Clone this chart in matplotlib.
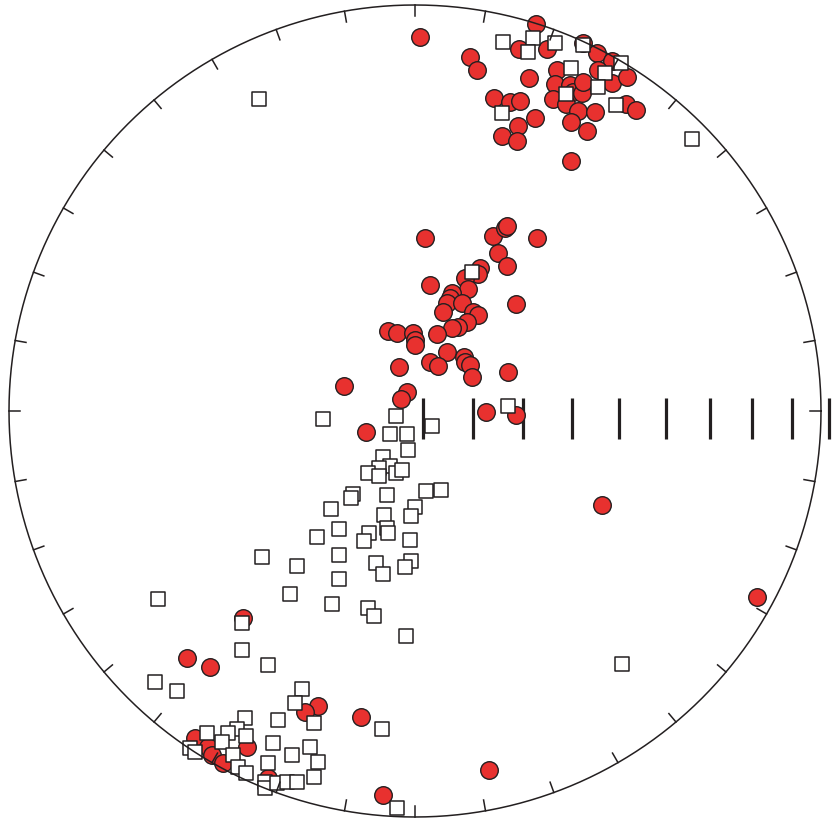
import numpy as np
import matplotlib
matplotlib.use("Agg")
import matplotlib.pyplot as plt

# Equal-area lower-hemisphere net: primitive radius in projection units
NET_R = 406.0
INK = "#231f20"
RED = "#e8312f"

# Poles (filled circles): projected east / north coordinates
pole_east = [121, 55, 62, 104, 132, 168, 182, 197, 114, 142, 140, 155, 158, 167, 168,
             183, 197, 212, 79, 95, 105, 138, 151, 163, 180, 211, 221, 120, 103, 87,
             102, 156, 172, 156, 5,
             10, 78, 90, 92, 122, 83, 92, 65, 63, 50, 53, 15, 37, 35, 32, 47, 58, 63,
             28, 52, 43, 37, 101, -27, -18, -2, 0, 0, 22, 32, 15, 23, 49, 50, 55, 57,
             -16, 93, -8, -14, 71, 101, -71, -49,
             187, 342, 74, -32, -54, -97, -110, -172, -228, -205, -220, -207, -203,
             -192, -168, -147]
pole_north = [387, 354, 341, 362, 362, 368, 358, 350, 333, 341, 327, 326, 319, 318, 329,
              341, 328, 334, 313, 309, 310, 312, 307, 300, 299, 307, 301, 293, 285, 275,
              270, 289, 280, 250, 374,
              173, 175, 183, 185, 173, 158, 145, 143, 137, 133, 122, 126, 118, 113, 108,
              108, 99, 96, 99, 89, 84, 83, 107, 80, 78, 78, 71, 66, 77, 59, 49, 45, 54,
              49, 46, 34, 44, 39, 19, 12, -1, -4, 25, -21,
              -94, -186, -359, -384, -306, -295, -301, -207, -247, -256, -327, -336,
              -344, -352, -336, -367]

# Lineations (open squares): projected east / north coordinates
line_east = [88, 118, 113, 140, 168, 206, 156, 190, 183, 151, 201, 87, -156, 277,
             57, 93,
             -92, -19, 17, -25, -8, -7, -32, -25, -36, -47, -36, -19, -13, -62, -64,
             -28, 11, 26, 0, -4, -84, -31, -76, -46, -51, -28, -27, -5, -98, -76, -39,
             -32, -4, -10, -118, -76, -83, -47, -41, -9, -153, -125, -257, 207,
             -173, -173, -147, -260, -238, -170, -137, -178, -187, -208, -169, -193,
             -142, -225, -220, -182, -177, -169, -147, -150, -150, -138, -128, -113,
             -120, -101, -33, -105, -123, -97, -101, -118, -18]
line_north = [369, 373, 359, 368, 366, 348, 343, 338, 324, 317, 306, 298, 312, 272,
              139, 5,
              -8, -5, -15, -23, -23, -39, -46, -55, -57, -62, -65, -62, -59, -83, -87,
              -84, -80, -79, -96, -105, -98, -104, -118, -122, -130, -117, -122, -129,
              -126, -144, -152, -163, -150, -156, -155, -168, -193, -197, -205, -225,
              -146, -183, -188, -253,
              -212, -239, -254, -271, -280, -307, -309, -318, -322, -322, -325, -331,
              -332, -337, -341, -344, -356, -362, -352, -371, -377, -372, -371, -278,
              -292, -312, -318, -336, -344, -351, -366, -371, -397]

fig = plt.figure(figsize=(8.33, 8.22), dpi=100)
ax = fig.add_axes([0, 0, 1, 1])
ax.set_xlim(-415, 418)
ax.set_ylim(-411, 411)
ax.axis("off")

# Primitive circle
theta = np.linspace(0, 2 * np.pi, 721)
ax.plot(NET_R * np.cos(theta), NET_R * np.sin(theta), color=INK, lw=1.1, zorder=6)

# Azimuth ticks every 10 degrees
for az in range(0, 360, 10):
    a = np.radians(az)
    ax.plot([(NET_R - 11) * np.sin(a), NET_R * np.sin(a)],
            [(NET_R - 11) * np.cos(a), NET_R * np.cos(a)],
            color=INK, lw=1.1, zorder=6)

# Plunge scale along the east radius (equal-area spacing, 10 degree steps)
plunges = np.arange(90, -1, -10)
r_scale = NET_R * np.sqrt(2) * np.sin(np.radians(90 - plunges) / 2)
ax.vlines(8 + r_scale, -28, 13, color=INK, lw=2.3, zorder=1)

ax.scatter(pole_east, pole_north, s=160, marker="o", facecolor=RED,
           edgecolor=INK, linewidth=1.0, zorder=3)
ax.scatter(line_east, line_north, s=88, marker="s", facecolor="white",
           edgecolor=INK, linewidth=1.1, zorder=4)

fig.savefig("out.png", dpi=100)
